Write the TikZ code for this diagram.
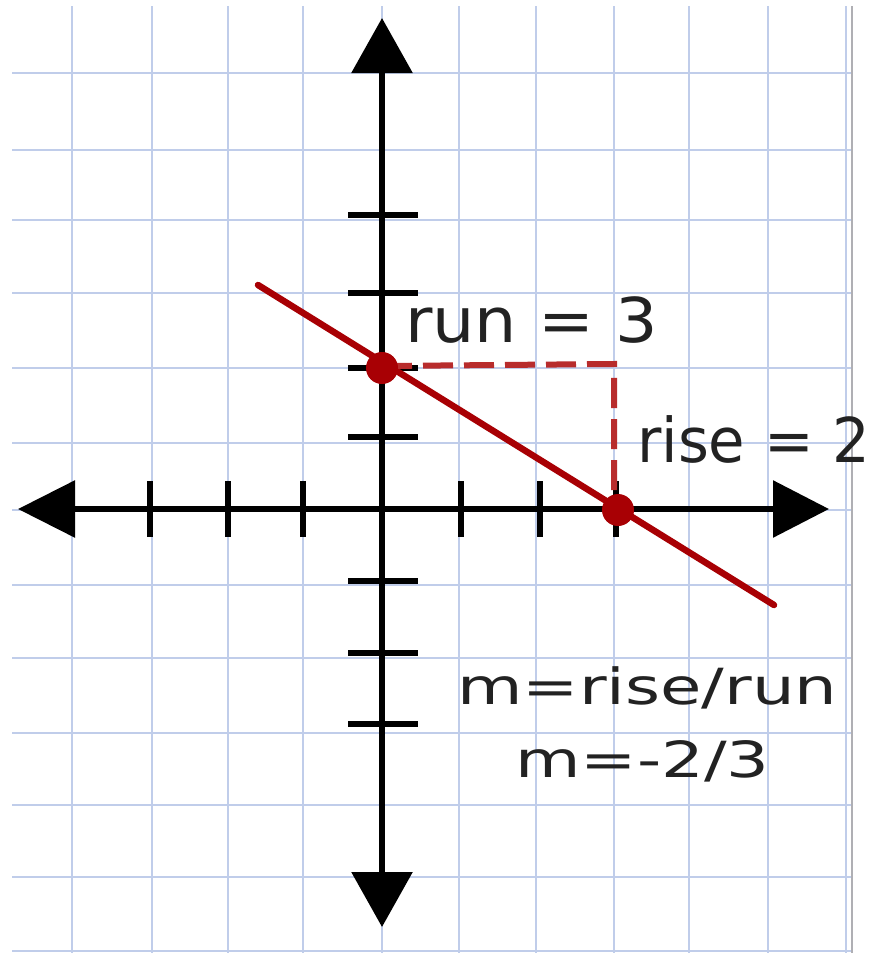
\documentclass[tikz,border=0pt]{standalone}
\usepackage{fontspec}
\setmainfont{DejaVu Sans}
\usetikzlibrary{arrows.meta}
\definecolor{gridblue}{RGB}{192,205,234}
\definecolor{borderg}{RGB}{175,175,180}
\definecolor{linered}{RGB}{168,0,4}
\definecolor{dashred}{RGB}{184,44,44}
\definecolor{ink}{RGB}{34,34,34}
\tikzset{
  gridline/.style={draw=gridblue, line width=2.8bp},
  axis/.style={draw=black, line width=6bp},
  axistick/.style={draw=black, line width=6bp},
  slopeline/.style={draw=linered, line width=6.5bp, line cap=round},
  risrun/.style={draw=dashred, line width=6bp, dash pattern=on 30bp off 11bp},
  ptdot/.style={fill=linered, draw=none},
  bigtext/.style={inner sep=0pt, anchor=base west, text=ink, font=\fontsize{62}{70}\selectfont},
  smalltext/.style={inner sep=0pt, anchor=base west, text=ink, font=\fontsize{50}{60}\selectfont}
}
\begin{document}
\begin{tikzpicture}[x=1bp, y=-1bp]
\useasboundingbox (0,0) rectangle (882,953);
\fill[white] (0,0) rectangle (882,953);
% graph paper
\foreach \x in {72,152,228,303,382,459,536,614,689,768,846}
  \draw[gridline] (\x,6) -- (\x,953);
\foreach \y in {73,150,220,293,368,443,510,585,658,733,805,877,951}
  \draw[gridline] (12,\y) -- (852,\y);
\draw[draw=borderg, line width=2.5bp] (852,6) -- (852,953);
% axes
\coordinate (O) at (382,509);
\coordinate (xl) at (18,509);
\coordinate (xr) at (829,509);
\coordinate (yt) at (382,18);
\coordinate (yb) at (382,927);
\draw[axis, {Triangle[length=57bp,width=56bp]}-{Triangle[length=56bp,width=56bp]}] (xl) -- (xr);
\draw[axis, {Triangle[length=55bp,width=60bp]}-{Triangle[length=55bp,width=60bp]}] (yt) -- (yb);
% ticks
\foreach \y in {215,293,368,437,581,653,724}
  \draw[axistick] (348,\y) -- (418,\y);
\foreach \x in {150,228,303,461,540,616}
  \draw[axistick] (\x,481) -- (\x,537);
% slope line
\coordinate (la) at (258,285);
\coordinate (lb) at (774,605);
\draw[slopeline] (la) -- (lb);
% rise / run
\coordinate (P) at (382,366);
\coordinate (C) at (614,364);
\coordinate (Q) at (614,498);
\draw[risrun] (P) -- (C) -- (Q);
% points
\node[ptdot, circle, minimum size=32bp, inner sep=0pt] (yint) at (382,368) {};
\node[ptdot, circle, minimum size=32bp, inner sep=0pt] (xint) at (618,510) {};
% labels
\node[bigtext] (run) at (405,342) {\scalebox{1.08}[1]{run = 3}};
\node[bigtext] (rise) at (637,462) {\scalebox{0.96}[1]{rise = 2}};
\node[smalltext] (mdef) at (457,704) {\scalebox{1.35}[1]{m=rise/run}};
\node[smalltext] (mval) at (515,777) {\scalebox{1.35}[1]{m=-2/3}};
\end{tikzpicture}
\end{document}
